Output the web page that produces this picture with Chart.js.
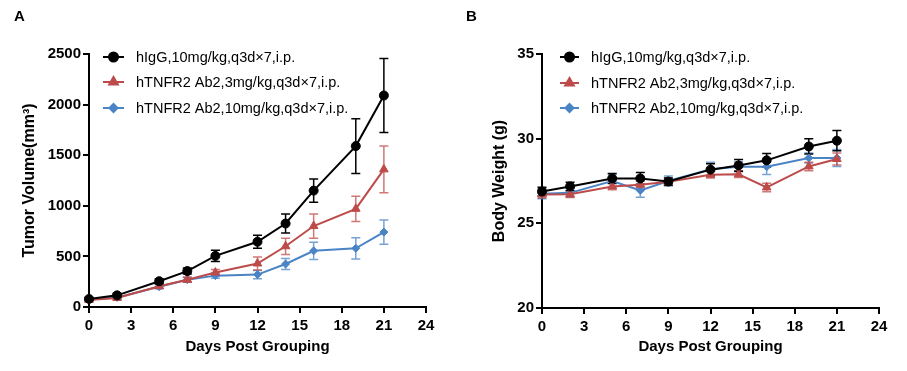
<!DOCTYPE html>
<html>
<head>
<meta charset="utf-8">
<title>Tumor volume and body weight</title>
<script src="https://cdn.jsdelivr.net/npm/chart.js@4.4.0/dist/chart.umd.min.js"></script>
<style>
  html, body { margin: 0; padding: 0; background: #fff; }
  #wrap { position: relative; width: 907px; height: 371px; overflow: hidden; }
  .panel { position: absolute; top: 0; }
  #panelA { left: 0; }
  #panelB { left: 450px; }
  .tag { position: absolute; top: 7px; font: bold 15px 'Liberation Sans', Arial, sans-serif; color: #000; }
</style>
</head>
<body>
<div id="wrap">
  <div class="panel" id="panelA"><canvas id="chartTumor" width="450" height="371"></canvas></div>
  <div class="panel" id="panelB"><canvas id="chartWeight" width="457" height="371"></canvas></div>
  <div class="tag" style="left:14px">A</div>
  <div class="tag" style="left:466px">B</div>
</div>

<script>
// ================================================
// Data
// ================================================

const days = [0, 2, 5, 7, 9, 12, 14, 16, 19, 21];
const dayTicks = [0, 3, 6, 9, 12, 15, 18, 21, 24];
const volumeTicks = [0, 500, 1000, 1500, 2000, 2500];
const weightTicks = [20, 25, 30, 35];

const groupLabels = [
  'hIgG,10mg/kg,q3d×7,i.p.',
  'hTNFR2 Ab2,3mg/kg,q3d×7,i.p.',
  'hTNFR2 Ab2,10mg/kg,q3d×7,i.p.'
];

// Tumor volume (mm³), mean and SEM
const volumeIgG = [80, 115, 255, 355, 505, 645, 825, 1150, 1590, 2090];
const volumeIgGErr = [15, 20, 25, 30, 55, 65, 95, 115, 270, 365];
const volumeAb3 = [70, 90, 205, 270, 340, 430, 600, 800, 970, 1360];
const volumeAb3Err = [15, 15, 20, 25, 30, 65, 80, 120, 125, 230];
const volumeAb10 = [75, 95, 200, 270, 310, 320, 425, 555, 580, 740];
const volumeAb10Err = [12, 15, 20, 25, 25, 40, 55, 85, 105, 120];

// Body weight (g), mean and SEM
const weightIgG = [26.88, 27.18, 27.65, 27.65, 27.47, 28.17, 28.42, 28.72, 29.54, 29.88];
const weightIgGErr = [0.25, 0.25, 0.3, 0.35, 0.2, 0.35, 0.35, 0.4, 0.45, 0.6];
const weightAb3 = [26.7, 26.72, 27.18, 27.28, 27.45, 27.87, 27.9, 27.12, 28.36, 28.8];
const weightAb3Err = [0.2, 0.2, 0.2, 0.2, 0.2, 0.2, 0.2, 0.25, 0.25, 0.35];
const weightAb10 = [26.75, 26.8, 27.5, 26.94, 27.5, 28.2, 28.34, 28.34, 28.86, 28.86];
const weightAb10Err = [0.3, 0.25, 0.4, 0.4, 0.3, 0.4, 0.3, 0.45, 0.3, 0.5];

// ================================================
// Styles
// ================================================

const FONT = "'Liberation Sans', Arial, sans-serif";
const groupStyles = [
  { color: '#000000', err: '#000000', pointStyle: 'circle', radius: 4.5 },
  { color: '#bd4b4a', err: 'rgba(189, 75, 74, 0.75)', pointStyle: 'triangle', radius: 5 },
  { color: '#4a84c6', err: 'rgba(74, 132, 198, 0.75)', pointStyle: 'rectRot', radius: 4 }
];

Chart.defaults.font.family = FONT;
Chart.defaults.color = '#000';

// ================================================
// Plugins
// ================================================

// Vertical SEM bars with caps, drawn under the markers
const errorBarPlugin = {
  id: 'errorBars',
  beforeDatasetsDraw(chart) {
    const ctx = chart.ctx;
    const xScale = chart.scales.x;
    const yScale = chart.scales.y;
    for (let i = chart.data.datasets.length - 1; i >= 0; i--) {
      const ds = chart.data.datasets[i];
      if (!ds.errors) continue;
      ctx.save();
      ctx.strokeStyle = ds.errorColor;
      ctx.lineWidth = 1.5;
      ds.data.forEach((pt, j) => {
        const x = xScale.getPixelForValue(pt.x);
        const yTop = yScale.getPixelForValue(pt.y + ds.errors[j]);
        const yBot = yScale.getPixelForValue(pt.y - ds.errors[j]);
        ctx.beginPath();
        ctx.moveTo(x, yTop);
        ctx.lineTo(x, yBot);
        ctx.moveTo(x - 4.5, yTop);
        ctx.lineTo(x + 4.5, yTop);
        ctx.moveTo(x - 4.5, yBot);
        ctx.lineTo(x + 4.5, yBot);
        ctx.stroke();
      });
      ctx.restore();
    }
  }
};

// Legend inside the plot, top left
const insetLegendPlugin = {
  id: 'insetLegend',
  afterDatasetsDraw(chart, args, opts) {
    const ctx = chart.ctx;
    const left = chart.chartArea.left;
    chart.data.datasets.forEach((ds, i) => {
      const y = opts.rows[i];
      const x0 = left + opts.lineStart;
      const x1 = left + opts.lineEnd;
      ctx.save();
      ctx.strokeStyle = ds.borderColor;
      ctx.lineWidth = 2;
      ctx.beginPath();
      ctx.moveTo(x0, y);
      ctx.lineTo(x1, y);
      ctx.stroke();
      ctx.fillStyle = ds.borderColor;
      ctx.strokeStyle = ds.borderColor;
      Chart.helpers.drawPoint(ctx, {
        pointStyle: ds.pointStyle,
        radius: ds.pointRadius,
        rotation: 0,
        borderWidth: 1
      }, (x0 + x1) / 2, y);
      ctx.fillStyle = '#000';
      ctx.font = '14.5px ' + FONT;
      ctx.textBaseline = 'middle';
      ctx.textAlign = 'left';
      ctx.fillText(ds.label, left + opts.textStart, y + 1);
      ctx.restore();
    });
  }
};

// ================================================
// Chart builder
// ================================================

function makeDatasets(values, errors) {
  return values.map((v, i) => ({
    label: groupLabels[i],
    data: v.map((y, j) => ({ x: days[j], y: y })),
    errors: errors[i],
    errorColor: groupStyles[i].err,
    borderColor: groupStyles[i].color,
    backgroundColor: groupStyles[i].color,
    borderWidth: 2,
    pointStyle: groupStyles[i].pointStyle,
    pointRadius: groupStyles[i].radius,
    pointHoverRadius: groupStyles[i].radius,
    pointBorderWidth: 1,
    tension: 0,
    clip: false
  }));
}

function makeChart(canvasId, cfg) {
  const axisFont = { size: 15, weight: 'bold' };

  return new Chart(document.getElementById(canvasId), {
    type: 'line',
    data: { datasets: makeDatasets(cfg.values, cfg.errors) },
    options: {
      responsive: false,
      animation: false,
      layout: { padding: { left: 0, right: cfg.padRight, top: 54, bottom: 0 } },
      plugins: {
        legend: { display: false },
        tooltip: { enabled: false },
        insetLegend: cfg.legend
      },
      scales: {
        x: {
          type: 'linear',
          min: 0,
          max: 24,
          afterBuildTicks: (scale) => { scale.ticks = dayTicks.map(v => ({ value: v })); },
          afterFit: (scale) => { scale.height = cfg.xHeight; },
          border: { display: true, color: '#000', width: 2 },
          grid: { drawOnChartArea: false, drawTicks: true, tickLength: 6, color: '#000', lineWidth: 2 },
          ticks: {
            padding: 4,
            maxRotation: 0,
            font: axisFont,
            color: '#000',
            callback: (value) => String(value)
          },
          title: {
            display: true,
            text: 'Days Post Grouping',
            font: axisFont,
            color: '#000',
            padding: { top: 0, bottom: 15 }
          }
        },
        y: {
          type: 'linear',
          min: cfg.yTicks[0],
          max: cfg.yTicks[cfg.yTicks.length - 1],
          afterBuildTicks: (scale) => { scale.ticks = cfg.yTicks.map(v => ({ value: v })); },
          afterFit: (scale) => { scale.width = cfg.yWidth; },
          border: { display: true, color: '#000', width: 2 },
          grid: { drawOnChartArea: false, drawTicks: true, tickLength: 6, color: '#000', lineWidth: 2 },
          ticks: {
            padding: 2,
            font: axisFont,
            color: '#000',
            callback: (value) => String(value)
          },
          title: {
            display: true,
            text: cfg.yTitle,
            font: { size: 16, weight: 'bold' },
            color: '#000',
            padding: { top: cfg.yTitlePad, bottom: 0 }
          }
        }
      }
    },
    plugins: [errorBarPlugin, insetLegendPlugin]
  });
}

// ================================================
// Init
// ================================================

document.addEventListener('DOMContentLoaded', function() {
  makeChart('chartTumor', {
    values: [volumeIgG, volumeAb3, volumeAb10],
    errors: [volumeIgGErr, volumeAb3Err, volumeAb10Err],
    yTicks: volumeTicks,
    yTitle: 'Tumor Volume(mm³)',
    yTitlePad: 20,
    yWidth: 89,
    xHeight: 64,
    padRight: 24,
    legend: { rows: [57, 82, 108], lineStart: 14, lineEnd: 35, textStart: 47 }
  });

  makeChart('chartWeight', {
    values: [weightIgG, weightAb3, weightAb10],
    errors: [weightIgGErr, weightAb3Err, weightAb10Err],
    yTicks: weightTicks,
    yTitle: 'Body Weight (g)',
    yTitlePad: 40,
    yWidth: 92,
    xHeight: 63,
    padRight: 28,
    legend: { rows: [57, 83, 108], lineStart: 18, lineEnd: 37, textStart: 49 }
  });
});
</script>
</body>
</html>
